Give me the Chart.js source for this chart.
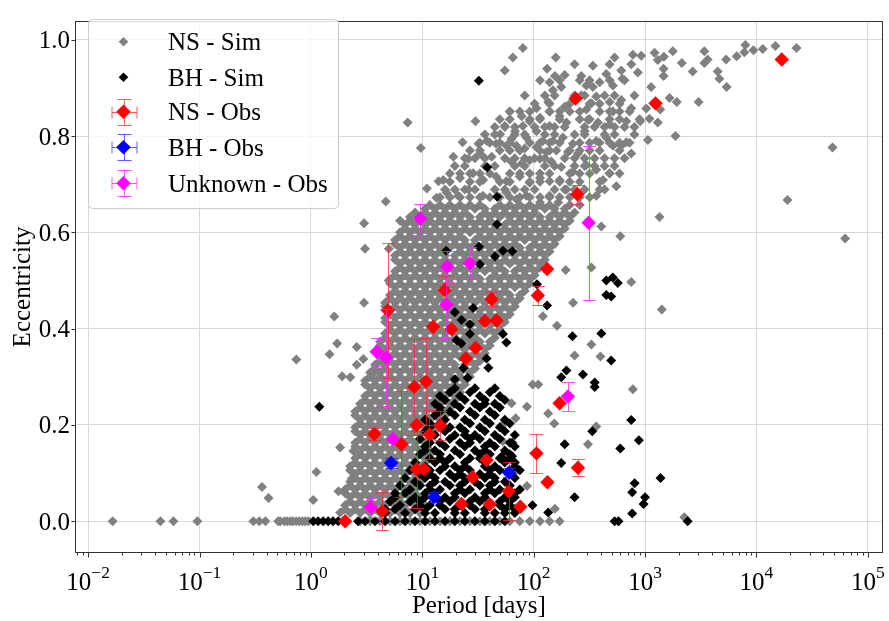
<!DOCTYPE html>
<html><head><meta charset="utf-8">
<script src="https://cdn.jsdelivr.net/npm/chart.js@4.4.1/dist/chart.umd.min.js"></script>
<style>html,body{margin:0;padding:0;background:#fff}</style>
</head><body>
<canvas id="c" width="889" height="621"></canvas>
<script>
const FONT = '"Liberation Serif","Times New Roman",Times,serif';
const xTickExps = [-2,-1,0,1,2,3,4,5];
const yTickValues = [0,0.2,0.4,0.6,0.8,1.0];
const legendLabels = ['NS - Sim','BH - Sim','NS - Obs','BH - Obs','Unknown - Obs'];
const xTitle = 'Period [days]';
const yTitle = 'Eccentricity';

// NS - Sim, individually read points [period, eccentricity]
const nsSimPoints = [
[0.0166,0],[0.0446,0],[0.0583,0],[0.0957,0],
[0.304,0],[0.344,0],[0.39,0],[0.509,0],[0.53,0],[0.577,0],[0.61,0],[0.653,0],[0.69,0],[0.738,0],[0.785,0],[0.836,0],[0.889,0],[0.946,0],
[0.364,0.071],[0.417,0.048],[1.12,0.102],[1.05,0.044],[1.83,0.153],[2.41,0.146],[1.77,0.062],[2.33,0.089],[1.83,0.018],
[0.74,0.336],[1.62,0.425],[1.72,0.369],[1.47,0.347],[2.58,0.362],[2.96,0.337],[2.58,0.325],[1.91,0.301],[2.26,0.299],[3.64,0.308],
[3.0,0.619],[3.06,0.566],[5.0,0.566],[5.0,0.5],[3.0,0.454],
[7.4,0.828],[9.7,0.775],[11,0.691],[4.7,0.664],[14,0.706],[13.4,0.672],
[80,0.983],[65,0.963],[55,0.936],[30,0.831],[158,0.963],[132,0.94],[233,0.949],[340,0.946],[481,0.949],[533,0.963],[778,0.969],[861,0.932],[752,0.949],[612,0.936],[625,0.919],[449,0.929],[515,0.905],[391,0.912],[340,0.902],[268,0.925],[297,0.905],[190,0.927],[155,0.925],[139,0.912],[177,0.902],[149,0.895],[268,0.885],[330,0.868],[365,0.882],[481,0.871],[515,0.851],[612,0.875],[752,0.858],[679,0.831],[481,0.824],[378,0.828],[297,0.855],[307,0.834],[287,0.81],[365,0.79],[449,0.797],[515,0.78],[612,0.78],[752,0.764],[679,0.787],[135,0.871],[106,0.858],[114,0.838],[139,0.851],[171,0.841],[190,0.861],[197,0.828],[139,0.821],[92,0.831],[78,0.841],[80,0.821],[61,0.851],[68,0.81],[55,0.821],[50,0.804],[63,0.794],[86,0.797],[106,0.81],[121,0.79],[149,0.79],[183,0.797],[225,0.784],[250,0.764],[203,0.767],[160,0.77],[130,0.767],[106,0.777],[83,0.774],[70,0.78],[57,0.78],[46,0.784],[38,0.79],[32,0.784],[23,0.787],[19,0.757],[26,0.753],[33,0.764],[42,0.757],[63,0.747],[78,0.743],[92,0.75],[114,0.753],[144,0.747],[177,0.736],[225,0.726],[297,0.74],[365,0.73],[419,0.709],[391,0.689],[481,0.723],[552,0.696],[15.4,0.709],[21.8,0.713],[28.6,0.723],[35.2,0.709],[46,0.716],[57,0.706],[75,0.716],[92,0.703],[114,0.713],[139,0.706],[171,0.709],[197,0.689],[16.5,0.683],[21,0.676],[26,0.689],[35,0.676],[57,0.683],[70,0.669],[86,0.676],[114,0.662],[139,0.676],[166,0.662],[365,0.676],
[48200,0.776],[19000,0.667],[62600,0.587],[22900,0.983],[14800,0.987],[11400,0.981],[9400,0.978],[7960,0.989],[7800,0.974],[6650,0.966],[5350,0.959],[4490,0.934],[4650,0.919],[5400,0.902],[3650,0.959],[3410,0.976],[3410,0.952],[2680,0.934],[3030,0.871],[2140,0.952],[1775,0.976],[1476,0.965],[1217,0.973],[1300,0.958],[1466,0.94],[1466,0.925],[1135,0.902],[1660,0.879],[1928,0.871],[1025,0.857],[1368,0.855],[1096,0.836],[1302,0.828],[1060,0.792],[1876,0.8],[925,0.967],[906,0.831],[1349,0.632],[1415,0.44],
[405,0.612],[600,0.592],[752,0.497],[330,0.527],[194,0.522],[226,0.454],[162,0.406],[121,0.426],[330,0.367],[233,0.344],[398,0.342],
[778,0.274],[365,0.197],[307,0.16],[87,0.073],[155,0.026],[135,0.224],[153,0.203],[87,0.238],[63.3,0.245],[68.9,0.214],[52.4,0.2],[53,0.166],[98,0.284],[110,0.284],[70,0.106],[2253,0.008]
];

// NS - Sim, dense core read row by row: [eccentricity, periods]
const nsSimRows = [
[0.916,[114,171,259,318,481,654]],
[0.884,[83.2,126,154,233,287,433,532,803]],
[0.867,[102,139,211,318,391,591]],
[0.851,[61.1,75.1,92.3,139,171,211,259,391,481,591,726]],
[0.835,[49.7,61.1,92.3,114,171,259,318,481,591,893]],
[0.819,[44.8,55.1,67.7,102,126,154,190,287,352,433,532,654,803]],
[0.803,[36.5,44.8,67.7,83.2,126,154,233,287,433,532,803]],
[0.786,[32.9,40.4,49.7,61.1,92.3,114,139,171,259,318,391,481,591,726]],
[0.770,[26.8,32.9,49.7,61.1,75.1,114,139,211,259,318,391,591]],
[0.754,[24.1,29.7,36.5,55.1,67.7,83.2,102,126,190,233,287,352,433,532,654]],
[0.738,[19.6,24.1,36.5,44.8,67.7,83.2,126,154,233,287,352,433,532]],
[0.722,[17.7,21.8,26.8,32.9,40.4,61.1,75.1,92.3,114,139,211,259,318,481,591]],
[0.705,[17.7,26.8,32.9,49.7,61.1,92.3,114,171,211,259,391]],
[0.689,[16.0,19.6,24.1,29.7,44.8,55.1,67.7,83.2,102,154,190,233,287,433]],
[0.673,[14.4,17.7,21.8,26.8,32.9,40.4,49.7,61.1,75.1,92.3,114,139,171,211,259,318]],
[0.657,[11.7,14.4,17.7,21.8,26.8,32.9,49.7,61.1,75.1,92.3,114,139,211,259]],
[0.649,[10.6,13.0,16.0,19.6,24.1,29.7,36.5,44.8,55.1,67.7,83.2,102,126,154,190]],
[0.641,[8.61,10.6,13.0,16.0,19.6,24.1,36.5,44.8,55.1,67.7,83.2,102,154,190,233]],
[0.632,[7.76,9.55,11.7,14.4,17.7,21.8,26.8,32.9,40.4,49.7,61.1,75.1,92.3,114,139,171,211]],
[0.624,[6.31,7.76,9.55,11.7,14.4,17.7,21.8,26.8,32.9,40.4,61.1,75.1,92.3,114,139,171,211]],
[0.616,[7.01,8.61,10.6,13.0,16.0,19.6,24.1,29.7,36.5,44.8,55.1,67.7,83.2,102,126,154,190]],
[0.608,[7.01,8.61,10.6,13.0,16.0,19.6,24.1,29.7,36.5,44.8,55.1,67.7,83.2,102,126,154,190]],
[0.600,[6.31,7.76,9.55,11.7,14.4,17.7,21.8,26.8,32.9,40.4,49.7,61.1,75.1,92.3,114,139,171]],
[0.592,[6.31,7.76,9.55,11.7,14.4,17.7,21.8,32.9,40.4,49.7,61.1,75.1,92.3,114,139,171]],
[0.584,[5.70,7.01,8.61,10.6,13.0,16.0,19.6,24.1,29.7,36.5,44.8,55.1,67.7,83.2,102,126,154]],
[0.576,[5.70,7.01,8.61,10.6,13.0,16.0,19.6,24.1,29.7,36.5,44.8,55.1,67.7,102,126,154]],
[0.568,[6.31,7.76,9.55,11.7,14.4,17.7,21.8,26.8,32.9,40.4,49.7,61.1,75.1,92.3,114,139]],
[0.560,[6.31,7.76,9.55,11.7,14.4,21.8,26.8,32.9,40.4,49.7,61.1,75.1,92.3,114,139]],
[0.552,[5.70,7.01,8.61,10.6,13.0,16.0,19.6,24.1,29.7,36.5,44.8,55.1,67.7,83.2,102,126]],
[0.543,[5.70,7.01,8.61,10.6,13.0,16.0,19.6,24.1,29.7,36.5,44.8,55.1,67.7,83.2,102,126]],
[0.535,[6.31,7.76,9.55,11.7,14.4,17.7,21.8,26.8,32.9,40.4,49.7,61.1,75.1,92.3,114]],
[0.527,[6.31,7.76,9.55,11.7,14.4,17.7,21.8,26.8,32.9,40.4,49.7,75.1,92.3,114]],
[0.519,[5.70,7.01,8.61,10.6,13.0,16.0,19.6,24.1,29.7,36.5,44.8,55.1,67.7,83.2,102]],
[0.511,[5.70,7.01,8.61,10.6,13.0,16.0,19.6,24.1,29.7,44.8,55.1,67.7,83.2,102]],
[0.503,[5.14,6.31,7.76,9.55,11.7,14.4,17.7,21.8,26.8,32.9,40.4,49.7,61.1,75.1,92.3]],
[0.494,[5.14,6.31,7.76,9.55,11.7,14.4,17.7,21.8,26.8,32.9,40.4,49.7,61.1,75.1,92.3]],
[0.486,[5.70,7.01,8.61,10.6,13.0,16.0,19.6,24.1,29.7,36.5,44.8,55.1,67.7,83.2]],
[0.478,[5.70,7.01,8.61,10.6,13.0,16.0,19.6,24.1,29.7,36.5,44.8,55.1,83.2]],
[0.470,[5.14,6.31,7.76,9.55,11.7,14.4,17.7,21.8,26.8,32.9,40.4,49.7,61.1,75.1]],
[0.463,[5.14,6.31,7.76,9.55,11.7,14.4,17.7,21.8,26.8,32.9,40.4,49.7,61.1,75.1]],
[0.454,[4.64,5.70,7.01,8.61,10.6,13.0,16.0,19.6,24.1,29.7,36.5,44.8,55.1,67.7]],
[0.446,[4.64,5.70,7.01,8.61,10.6,13.0,16.0,19.6,24.1,36.5,44.8,55.1,67.7]],
[0.438,[5.14,6.31,7.76,9.55,11.7,14.4,17.7,21.8,26.8,32.9,40.4,49.7,61.1]],
[0.430,[5.14,6.31,7.76,9.55,11.7,14.4,17.7,21.8,26.8,32.9,40.4,49.7,61.1]],
[0.422,[4.64,5.70,7.01,8.61,10.6,13.0,16.0,19.6,24.1,29.7,36.5,44.8,55.1]],
[0.414,[4.64,5.70,7.01,8.61,10.6,16.0,19.6,24.1,29.7,36.5,44.8,55.1]],
[0.406,[5.14,6.31,7.76,9.55,11.7,14.4,17.7,21.8,26.8,32.9,40.4,49.7]],
[0.398,[5.14,6.31,7.76,9.55,11.7,14.4,17.7,21.8,26.8,32.9,40.4,49.7]],
[0.390,[4.64,5.70,7.01,8.61,10.6,13.0,16.0,19.6,24.1,29.7,36.5,44.8]],
[0.381,[4.64,5.70,7.01,8.61,10.6,13.0,16.0,19.6,24.1,29.7,44.8]],
[0.373,[4.18,5.14,6.31,7.76,9.55,11.7,14.4,17.7,21.8,26.8,32.9,40.4]],
[0.365,[4.18,5.14,6.31,7.76,9.55,11.7,14.4,17.7,21.8,26.8,32.9,40.4]],
[0.357,[4.64,5.70,7.01,8.61,10.6,13.0,16.0,19.6,24.1,29.7,36.5]],
[0.349,[4.64,5.70,7.01,8.61,10.6,13.0,16.0,19.6,24.1,29.7,36.5]],
[0.341,[4.18,5.14,6.31,7.76,9.55,11.7,14.4,17.7,21.8,26.8,32.9]],
[0.333,[4.18,5.14,6.31,7.76,9.55,11.7,14.4,17.7,26.8,32.9]],
[0.325,[3.77,4.64,5.70,7.01,8.61,10.6,13.0,16.0,19.6,24.1,29.7]],
[0.317,[3.77,4.64,5.70,7.01,8.61,10.6,13.0,16.0,19.6,24.1,29.7]],
[0.309,[3.40,4.18,5.14,6.31,7.76,9.55,11.7,14.4,17.7,21.8,26.8]],
[0.300,[3.40,4.18,5.14,6.31,7.76,9.55,11.7,14.4,17.7,21.8,26.8]],
[0.292,[3.07,3.77,4.64,5.70,7.01,8.61,10.6,13.0,16.0,19.6,24.1]],
[0.284,[3.07,3.77,4.64,5.70,7.01,8.61,10.6,13.0,16.0,19.6,24.1]],
[0.276,[3.40,4.18,5.14,6.31,7.76,9.55,11.7,14.4,17.7,21.8]],
[0.268,[3.40,4.18,5.14,6.31,7.76,9.55,11.7,14.4,17.7,21.8]],
[0.260,[3.07,3.77,4.64,5.70,7.01,8.61,10.6,13.0,16.0,19.6]],
[0.252,[3.07,3.77,4.64,5.70,7.01,8.61,10.6,13.0,16.0,19.6]],
[0.244,[2.77,3.40,4.18,5.14,6.31,7.76,9.55,11.7,14.4,17.7]],
[0.236,[2.77,3.40,4.18,5.14,6.31,7.76,9.55,11.7,14.4,17.7]],
[0.228,[2.50,3.07,3.77,4.64,5.70,7.01,8.61,10.6,13.0,16.0]],
[0.220,[2.50,3.07,3.77,4.64,5.70,7.01,8.61,10.6,13.0,16.0]],
[0.211,[2.77,3.40,4.18,5.14,6.31,7.76,9.55,11.7,14.4]],
[0.203,[2.77,3.40,4.18,5.14,6.31,7.76,9.55,11.7,14.4]],
[0.195,[2.50,3.07,3.77,4.64,5.70,7.01,8.61,10.6,13.0]],
[0.187,[2.50,3.07,3.77,4.64,5.70,7.01,8.61,10.6,13.0]],
[0.179,[2.77,3.40,4.18,5.14,6.31,7.76,9.55,11.7]],
[0.171,[2.77,3.40,4.18,5.14,6.31,7.76,9.55,11.7]],
[0.163,[2.50,3.07,3.77,4.64,5.70,7.01,8.61,10.6]],
[0.155,[2.50,3.07,3.77,4.64,5.70,7.01,8.61,10.6]],
[0.147,[2.77,3.40,4.18,5.14,6.31,7.76,9.55,11.7]],
[0.139,[2.77,3.40,4.18,5.14,6.31,7.76,9.55,11.7]],
[0.131,[2.50,3.07,3.77,4.64,5.70,7.01,8.61,10.6]],
[0.122,[2.50,3.07,3.77,4.64,5.70,7.01,8.61,10.6]],
[0.114,[2.25,2.77,3.40,4.18,5.14,6.31,7.76,9.55]],
[0.106,[2.25,2.77,3.40,4.18,5.14,6.31,7.76,9.55]],
[0.098,[2.50,3.07,3.77,4.64,5.70,7.01,8.61]],
[0.090,[2.50,3.07,3.77,4.64,5.70,7.01,8.61]],
[0.082,[2.25,2.77,3.40,4.18,5.14,6.31,7.76,9.55]],
[0.074,[2.25,2.77,3.40,4.18,5.14,6.31,7.76,9.55]],
[0.066,[2.03,2.50,3.07,3.77,4.64,5.70,7.01,8.61]],
[0.058,[2.03,2.50,3.07,3.77,4.64,5.70,7.01,8.61]],
[0.050,[2.25,2.77,3.40,4.18,5.14,6.31,7.76,9.55]],
[0.041,[2.25,2.77,3.40,4.18,5.14,6.31,7.76,9.55]],
[0.033,[2.03,2.50,3.07,3.77,4.64,5.70,7.01,8.61,10.6]],
[0.025,[2.03,2.50,3.07,3.77,4.64,5.70,7.01,8.61,10.6]],
[0.017,[2.25,2.77,3.40,4.18,5.14,6.31,7.76,9.55]],
[0.0,[2.77,3.40,4.18,5.14,6.31,7.76,9.55,11.7,14.4,17.7,21.8,26.8,32.9,40.4,49.7,61.1,75.1,92.3,114,139,171]]
];

// BH - Sim, individually read points
const bhSimPoints = [
[32.2,0.915],[38.3,0.735],[47,0.674],
[47,0.617],[32.3,0.57],[44.9,0.55],[53,0.562],[64.3,0.561],[32.9,0.534],[16.4,0.562],
[449,0.5],[514,0.506],[570,0.495],[449,0.47],[497,0.467],[107,0.492],[132,0.448],
[28.6,0.443],[19.6,0.434],[22.5,0.418],[26.8,0.409],[26.8,0.389],[20.3,0.376],[22.5,0.369],
[53,0.389],[57,0.371],[223,0.384],[405,0.39],[497,0.334],[37.8,0.338],[39.2,0.319],[23.4,0.318],[19.6,0.295],[25.5,0.298],
[197,0.313],[177,0.299],[277,0.305],[353,0.288],
[353,0.279],[752,0.21],[336,0.187],[881,0.168],[190,0.16],[600,0.151],[64,0.163],[64,0.135],[177,0.121],
[1377,0.09],[806,0.079],[767,0.06],[1000,0.05],[970,0.036],[233,0.05],[97.5,0.033],[135,0.018],[767,0.016],
[533,0],[578,0],[2416,0],[51.5,0.134],[1.19,0.238]
];

// BH - Sim, dense lower cluster read row by row
const bhSimRows = [
[0.276,[19.6,29.7,44.8]],
[0.268,[17.7,26.8,40.4]],
[0.260,[14.4,21.8,32.9,49.7]],
[0.252,[16.0,24.1,36.5,55.1]],
[0.244,[13.0,19.6,29.7,36.5,44.8]],
[0.236,[14.4,21.8,32.9,49.7]],
[0.228,[14.4,17.7,26.8,40.4]],
[0.220,[13.0,19.6,29.7,44.8]],
[0.211,[10.6,16.0,24.1,36.5,55.1]],
[0.203,[11.7,14.4,26.8,40.4,61.1]],
[0.195,[11.7,17.7,21.8,32.9,49.7]],
[0.187,[10.6,16.0,24.1,36.5,55.1]],
[0.179,[13.0,19.6,24.1,29.7,44.8,67.7]],
[0.171,[9.55,17.7,26.8,32.9,49.7]],
[0.163,[11.7,14.4,21.8,26.8,40.4,61.1]],
[0.155,[10.6,16.0,24.1,36.5,44.8,67.7]],
[0.147,[10.6,13.0,19.6,29.7,36.5,55.1]],
[0.139,[9.55,14.4,21.8,32.9,40.4,61.1]],
[0.131,[11.7,14.4,17.7,26.8,32.9,49.7,61.1]],
[0.122,[8.61,13.0,16.0,24.1,36.5,55.1,67.7]],
[0.114,[10.6,16.0,19.6,24.1,36.5,44.8,67.7]],
[0.106,[7.76,11.7,14.4,21.8,26.8,40.4,49.7,75.1]],
[0.098,[9.55,11.7,17.7,21.8,32.9,40.4,61.1]],
[0.090,[7.01,10.6,13.0,19.6,24.1,36.5,44.8,67.7]],
[0.082,[8.61,13.0,16.0,24.1,29.7,44.8,55.1]],
[0.074,[6.31,9.55,11.7,17.7,21.8,32.9,40.4,61.1]],
[0.066,[7.76,11.7,14.4,21.8,26.8,40.4,49.7,75.1]],
[0.058,[5.70,7.01,10.6,13.0,19.6,24.1,36.5,44.8,67.7]],
[0.050,[5.70,8.61,10.6,16.0,19.6,29.7,36.5,55.1,67.7]],
[0.041,[5.14,7.76,9.55,14.4,17.7,26.8,32.9,49.7,61.1]],
[0.033,[6.31,9.55,11.7,14.4,21.8,26.8,40.4,49.7,61.1]],
[0.025,[4.64,5.70,8.61,10.6,16.0,19.6,29.7,36.5,55.1,67.7]],
[0.017,[4.64,7.01,10.6,13.0,19.6,24.1,36.5,44.8,55.1,67.7]],
[0.0,[1.05,1.16,1.29,1.43,1.58,1.76,2.65,3.07,3.77,4.64,5.70,7.01,8.61,10.6,13.0,16.0,19.6,24.1,29.7,36.5,44.8,55.1]]
];

// Observations [period, eccentricity, eccentricity error]
const nsObs = [
[2.03,0.0,0],[4.38,0.021,0.04],[3.71,0.181,0.012],[4.9,0.438,0.14],[6.5,0.16,0.11],
[8.45,0.279,0.1],[10.8,0.29,0.09],[8.9,0.2,0],[11.6,0.18,0.05],[14.5,0.199,0.03],
[8.9,0.108,0.08],[10.4,0.108,0],[37.8,0.127,0],[28.3,0.092,0],[22.5,0.036,0],[40.4,0.035,0],
[132,0.524,0],[109,0.469,0.02],[41.9,0.461,0.015],[36.5,0.416,0],[46.4,0.417,0],[18.3,0.399,0],
[12.5,0.404,0],[15.9,0.48,0.03],[30.1,0.36,0],[24.6,0.338,0],
[238,0.878,0],[1242,0.868,0],[16900,0.959,0],[247,0.679,0.02],
[106,0.141,0.04],[133,0.081,0],[250,0.111,0.018],[59.8,0.062,0.06],[75.9,0.03,0],[171,0.245,0]
];
const bhObs = [[5.25,0.121,0.01],[12.8,0.05,0.01],[59.8,0.101,0.01]];
const unkObs = [
[3.9,0.352,0.029],[4.73,0.34,0.1],[9.6,0.629,0.03],[16.7,0.529,0.033],[26.7,0.536,0.033],
[16.5,0.45,0.07],[312,0.62,0.16],[203,0.259,0.03],[3.44,0.029,0.02],[5.43,0.171,0]
];

const toXY = a => a.map(p => ({x: p[0], y: p[1]}));
const rowsXY = rows => rows.flatMap(r => r[1].map(P => ({x: P, y: r[0]})));

function simSet(label, data, color, r, order) {
  return {label, data, order, pointStyle: 'rectRot', pointRadius: r, pointHoverRadius: r,
    pointBackgroundColor: color, backgroundColor: color, pointBorderWidth: 0, borderWidth: 0, showLine: false};
}
function obsSet(label, arr, color, errColor, order) {
  const s = simSet(label, toXY(arr), color, 7.2, order);
  s.errs = arr.map(p => p[2]);
  s.errColor = errColor;
  return s;
}

const datasets = [
  simSet('NS - Sim', toXY(nsSimPoints).concat(rowsXY(nsSimRows)), '#808080', 5, 5),
  simSet('BH - Sim', toXY(bhSimPoints).concat(rowsXY(bhSimRows)), '#000000', 5, 4),
  obsSet('NS - Obs', nsObs, '#ff0000', 'rgba(255,40,40,0.75)', 3),
  obsSet('BH - Obs', bhObs, '#0000ff', 'rgba(40,40,255,0.75)', 2),
  obsSet('Unknown - Obs', unkObs, '#ff00ff', 'rgba(255,40,255,0.8)', 1)
];

function diamond(ctx, x, y, r, color) {
  ctx.fillStyle = color;
  ctx.beginPath();
  ctx.moveTo(x - r, y); ctx.lineTo(x, y - r); ctx.lineTo(x + r, y); ctx.lineTo(x, y + r);
  ctx.closePath(); ctx.fill();
}

const decor = {
  id: 'decor',
  beforeDatasetDraw(chart, args) {
    const ds = chart.data.datasets[args.index];
    if (!ds.errs) return;
    const ctx = chart.ctx, xs = chart.scales.x, ys = chart.scales.y;
    ctx.save();
    ctx.strokeStyle = ds.errColor; ctx.lineWidth = 1;
    ds.errs.forEach((err, i) => {
      if (!err) return;
      const p = ds.data[i];
      const px = Math.round(xs.getPixelForValue(p.x)) + 0.5;
      const y1 = Math.round(ys.getPixelForValue(p.y + err)) + 0.5;
      const y2 = Math.round(ys.getPixelForValue(p.y - err)) + 0.5;
      ctx.beginPath();
      ctx.moveTo(px, y1); ctx.lineTo(px, y2);
      ctx.moveTo(px - 6.5, y1); ctx.lineTo(px + 6.5, y1);
      ctx.moveTo(px - 6.5, y2); ctx.lineTo(px + 6.5, y2);
      ctx.stroke();
    });
    ctx.restore();
  },
  afterDraw(chart) {
    const ctx = chart.ctx, a = chart.chartArea, xs = chart.scales.x, ys = chart.scales.y;
    ctx.save();
    ctx.strokeStyle = '#333'; ctx.lineWidth = 1;
    ctx.strokeRect(Math.round(a.left) - 0.5, Math.round(a.top) + 0.5, Math.round(a.right - a.left) + 1, Math.round(a.bottom - a.top) - 1);
    ctx.beginPath();
    const yb = Math.round(a.bottom) - 0.5;
    xTickExps.forEach(e => {
      const px = Math.round(xs.getPixelForValue(Math.pow(10, e))) + 0.5;
      ctx.moveTo(px, yb); ctx.lineTo(px, yb + 5);
    });
    for (let e = -3; e <= 5; e++) {
      for (let k = 2; k <= 9; k++) {
        const v = k * Math.pow(10, e);
        if (v < xs.min || v > xs.max) continue;
        const px = Math.round(xs.getPixelForValue(v)) + 0.5;
        ctx.moveTo(px, yb); ctx.lineTo(px, yb + 3);
      }
    }
    const xl = Math.round(a.left) - 0.5;
    yTickValues.forEach(v => {
      const py = Math.round(ys.getPixelForValue(v)) + 0.5;
      ctx.moveTo(xl, py); ctx.lineTo(xl - 4, py);
    });
    ctx.stroke();
    ctx.fillStyle = '#000';
    ctx.textBaseline = 'alphabetic'; ctx.textAlign = 'left';
    xTickExps.forEach(e => {
      const px = xs.getPixelForValue(Math.pow(10, e));
      const base = '10', ex = (e < 0 ? '\u2212' + (-e) : String(e));
      ctx.font = '25px ' + FONT; const wb = ctx.measureText(base).width;
      ctx.font = '17.5px ' + FONT; const we = ctx.measureText(ex).width;
      const x0 = px - (wb + we) / 2;
      ctx.font = '25px ' + FONT; ctx.fillText(base, x0, 590);
      ctx.font = '17.5px ' + FONT; ctx.fillText(ex, x0 + wb, 578);
    });
    ctx.font = '25px ' + FONT; ctx.textAlign = 'center';
    ctx.fillText(xTitle, (a.left + a.right) / 2, 613);
    ctx.save();
    ctx.translate(30, (a.top + a.bottom) / 2);
    ctx.rotate(-Math.PI / 2);
    ctx.fillText(yTitle, 0, 0);
    ctx.restore();
    ctx.fillStyle = 'rgba(255,255,255,0.8)'; ctx.strokeStyle = '#cccccc'; ctx.lineWidth = 1;
    ctx.beginPath(); ctx.roundRect(88.5, 19.5, 250, 189, 4); ctx.fill(); ctx.stroke();
    const ly = [41.7, 77.3, 111.7, 147.3, 183.3], lx = 123.5;
    const cols = ['#808080', '#000000', '#ff0000', '#0000ff', '#ff00ff'];
    const ecols = [null, null, 'rgba(255,40,40,0.75)', 'rgba(40,40,255,0.75)', 'rgba(255,40,255,0.8)'];
    legendLabels.forEach((lab, i) => {
      const y = ly[i];
      if (i < 2) {
        diamond(ctx, lx, y, 4.8, cols[i]);
      } else {
        ctx.strokeStyle = ecols[i]; ctx.lineWidth = 1;
        ctx.beginPath();
        const X = Math.round(lx) + 0.5, Y = Math.round(y) + 0.5;
        ctx.moveTo(X - 12.5, Y); ctx.lineTo(X + 12.5, Y);
        ctx.moveTo(X - 12.5, Y - 6); ctx.lineTo(X - 12.5, Y + 6);
        ctx.moveTo(X + 12.5, Y - 6); ctx.lineTo(X + 12.5, Y + 6);
        ctx.moveTo(X, Y - 13); ctx.lineTo(X, Y + 13);
        ctx.moveTo(X - 7, Y - 13); ctx.lineTo(X + 7, Y - 13);
        ctx.moveTo(X - 7, Y + 13); ctx.lineTo(X + 7, Y + 13);
        ctx.stroke();
        diamond(ctx, lx, y, 7.3, cols[i]);
      }
      ctx.fillStyle = '#000'; ctx.font = '25px ' + FONT; ctx.textAlign = 'left';
      ctx.fillText(lab, 168, y + 8.5);
    });
    ctx.restore();
  }
};

new Chart(document.getElementById('c'), {
  type: 'scatter',
  data: {datasets},
  options: {
    responsive: false, animation: false, devicePixelRatio: 1, events: [],
    layout: {padding: {left: 0, right: 6, top: 7, bottom: 0}},
    plugins: {legend: {display: false}, tooltip: {enabled: false}},
    scales: {
      x: {
        type: 'logarithmic', min: 0.00778, max: 133600,
        afterBuildTicks: s => { s.ticks = xTickExps.map(e => ({value: Math.pow(10, e)})); },
        afterFit: s => { s.height = 68; },
        ticks: {display: false},
        grid: {color: '#d8d8d8', lineWidth: 1, drawTicks: false},
        border: {display: false}
      },
      y: {
        type: 'linear', min: -0.066, max: 1.039,
        afterBuildTicks: s => { s.ticks = yTickValues.map(v => ({value: v})); },
        afterFit: s => { s.width = 76; },
        ticks: {callback: v => Number(v).toFixed(1), font: {family: FONT, size: 25}, color: '#000', padding: 6, labelOffset: 2},
        grid: {color: '#d8d8d8', lineWidth: 1, drawTicks: false},
        border: {display: false}
      }
    }
  },
  plugins: [decor]
});
</script>
</body></html>
